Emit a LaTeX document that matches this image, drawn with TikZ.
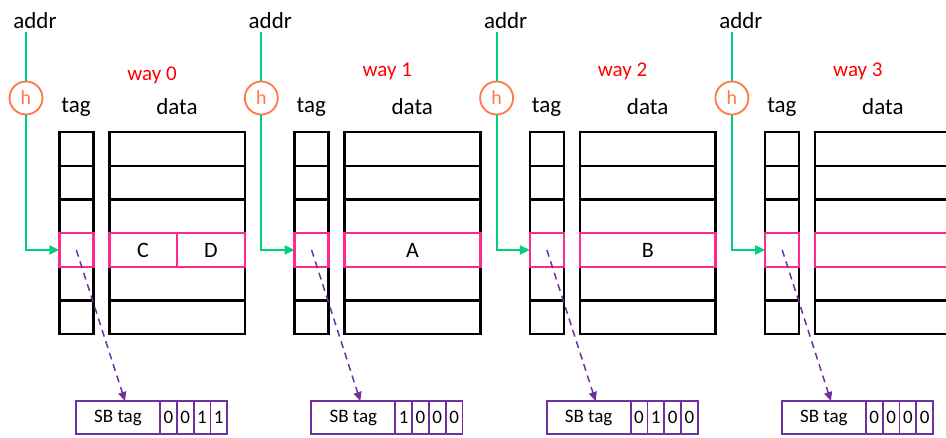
\documentclass[tikz,border=0pt]{standalone}
\usepackage{fontspec}
\setmainfont{Carlito}
\usetikzlibrary{arrows.meta}
\usetikzlibrary{calc}
\definecolor{lnkgreen}{RGB}{0,208,120}
\definecolor{hashorange}{RGB}{255,120,70}
\definecolor{hitpink}{RGB}{255,40,140}
\definecolor{sbpurple}{RGB}{112,48,160}
\tikzset{
  cell/.style={draw=black,line width=2.4pt,inner sep=0pt,outer sep=0pt,minimum height=33.7pt},
  hit/.style={cell,draw=hitpink},
  sbcell/.style={draw=sbpurple,line width=1.8pt,inner sep=0pt,outer sep=0pt,minimum height=33pt,font=\fontsize{19}{19}\selectfont},
  hash/.style={circle,draw=hashorange,line width=1.8pt,text=hashorange,minimum size=33pt,inner sep=0pt,font=\fontsize{20}{20}\selectfont},
  lbl/.style={inner sep=0pt,font=\fontsize{23}{23}\selectfont},
  link/.style={lnkgreen,line width=2pt},
  sblink/.style={sbpurple,line width=1.5pt,dash pattern=on 7pt off 5pt,-{Triangle[length=9pt,width=8pt]}},
}
\begin{document}
\begin{tikzpicture}[x=1pt,y=-1pt]
  \useasboundingbox (0,0) rectangle (946,437);
  \pgfmathsetmacro{\rh}{33.7}

  \foreach \w/\ba/\bb/\bc/\bd/\blk in {0/0/0/1/1/{},1/1/0/0/0/A,2/0/1/0/0/B,3/0/0/0/0/{}}{
    \pgfmathsetmacro{\ox}{235.3*\w}
    \pgfmathsetmacro{\wy}{\w==0 ? 75 : 71}
    \node[lbl] (addr\w) at (\ox+35,21) {addr};
    \node[hash] (h\w) at (\ox+26,98) {h};
    \node[lbl,text=red,font=\fontsize{21}{21}\selectfont] (way\w) at (\ox+152,\wy) {way \w};
    \node[lbl] (tag\w) at (\ox+76,107) {tag};
    \node[lbl] (data\w) at (\ox+177,107) {data};
    \foreach \r in {0,...,5}{
      \node[cell,minimum width=34pt] (t\w-\r) at (\ox+76.3,132+\rh*\r+\rh/2) {};
      \node[cell,minimum width=135.7pt] (d\w-\r) at (\ox+177.2,132+\rh*\r+\rh/2) {};
    }
    \node[hit,minimum width=34pt] (th\w) at (t\w-3) {};
    \node[hit,minimum width=135.7pt,font=\fontsize{22}{22}\selectfont] (dh\w) at (d\w-3) {\blk};
    \draw[link] (h\w |- addr\w.south) ++(0,3) -- (h\w.north);
    \draw[link,-{Triangle[length=10pt,width=9pt]}] (h\w.south) |- (th\w.west);
    % SB tag entry
    \node[sbcell,minimum width=84pt] (sb\w) at (\ox+118,417.5) {SB tag};
    \foreach \bit [count=\i from 0] in {\ba,\bb,\bc,\bd}
      \node[sbcell,minimum width=16.8pt] (b\w-\i) at (\ox+168.4+16.8*\i,417.5) {\bit};
    \draw[sblink] (th\w.center) -- ($(sb\w.north)+(7,0)$);
  }

  \draw[hitpink,line width=2.4pt] (dh0.north) -- (dh0.south);
  \node[lbl,font=\fontsize{22}{22}\selectfont] (valC) at (143,250) {C};
  \node[lbl,font=\fontsize{22}{22}\selectfont] (valD) at (211,250) {D};
\end{tikzpicture}
\end{document}
